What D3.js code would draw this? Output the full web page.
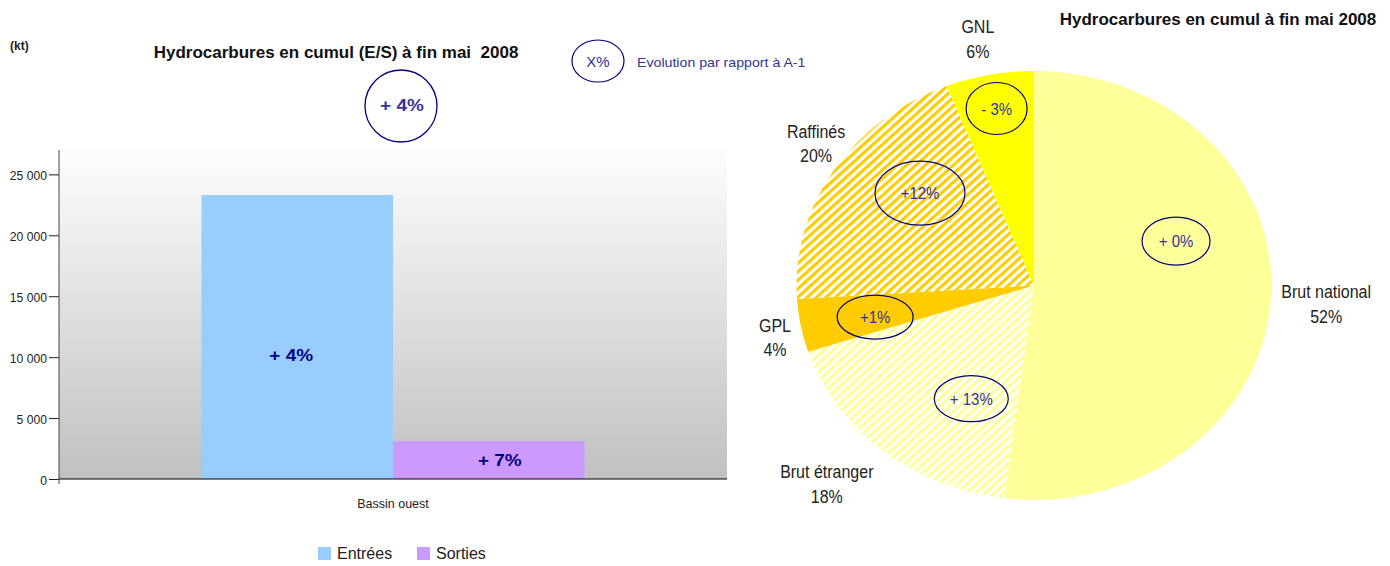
<!DOCTYPE html>
<html>
<head>
<meta charset="utf-8">
<script src="https://cdn.jsdelivr.net/npm/d3@7"></script>
<style>
  body { margin: 0; background: #fff; }
  svg { display: block; font-family: 'Liberation Sans', Arial, sans-serif; }
</style>
</head>
<body>
<svg id="chart" width="1390" height="566"></svg>
<script>
// bar chart data (kt, cumul fin mai 2008)
const barCategories = ['Bassin ouest'];
const barSeries = ['Entrées', 'Sorties'];
const barValues = [23300, 3100];
const barEvolution = ['+ 4%', '+ 7%'];
const totalEvolution = '+ 4%';
const yTicks = [0, 5000, 10000, 15000, 20000, 25000];
const yMax = 27000;

// pie data (share of total, %)
const pieLabels = ['Brut national', 'Brut étranger', 'GPL', 'Raffinés', 'GNL'];
const pieValues = [52, 18, 4, 20, 6];
const pieEvolution = ['+ 0%', '+ 13%', '+1%', '+12%', '- 3%'];

const svg = d3.select('#chart');
const defs = svg.append('defs');
const NAVY = '#000080';
const BADGE_TEXT = '#333399';

// text with a horizontal stretch (the original picture was resampled)
function label(parent, x, y, str, size, sx, opts = {}) {
  return parent.append('text')
    .attr('transform', `translate(${x},${y}) scale(${sx},1)`)
    .attr('text-anchor', opts.anchor || 'start')
    .attr('font-size', size)
    .attr('font-weight', opts.weight || 'normal')
    .attr('fill', opts.fill || '#222')
    .style('white-space', 'pre')
    .text(str);
}

// ---------- bar chart ----------
const plot = { left: 59, right: 727, top: 150, bottom: 479 };
const barColors = { 'Entrées': '#99CCFF', 'Sorties': '#CC99FF' };
// label shift from the bar middle [dx, dy]
const barLabelShift = [[-6, 18], [11, 0]];

const grad = defs.append('linearGradient')
  .attr('id', 'plotBg').attr('x1', 0).attr('y1', 0).attr('x2', 0).attr('y2', 1);
grad.append('stop').attr('offset', '0%').attr('stop-color', '#fdfdfd');
grad.append('stop').attr('offset', '100%').attr('stop-color', '#c0c0c0');

const y = d3.scaleLinear().domain([0, yMax]).range([plot.bottom, plot.top]);
const x0 = d3.scaleBand().domain(barCategories).range([plot.left, plot.right])
  .paddingInner(0).paddingOuter(0.372);
const x1 = d3.scaleBand().domain(barSeries).range([0, x0.bandwidth()]).padding(0);

svg.append('rect')
  .attr('x', plot.left).attr('y', plot.top)
  .attr('width', plot.right - plot.left).attr('height', plot.bottom - plot.top)
  .attr('fill', 'url(#plotBg)');

barCategories.forEach(cat => {
  const g = svg.append('g').attr('transform', `translate(${x0(cat)},0)`);
  barSeries.forEach((s, i) => {
    const v = barValues[i];
    g.append('rect')
      .attr('x', x1(s))
      .attr('y', y(v))
      .attr('width', x1.bandwidth())
      .attr('height', y(0) - y(v))
      .attr('fill', barColors[s]);
    const [dx, dy] = barLabelShift[i];
    label(g, x1(s) + x1.bandwidth() / 2 + dx, y(v / 2) + 6 + dy, barEvolution[i], 16.5, 1.15,
      { anchor: 'middle', weight: 'bold', fill: NAVY });
  });
});

// y axis
const yAxis = d3.axisLeft(y)
  .tickValues(yTicks)
  .tickSize(10)
  .tickPadding(2)
  .tickFormat(d => d3.format(',')(d).replace(/,/g, ' '));

const yAxisG = svg.append('g')
  .attr('transform', `translate(${plot.left},0)`)
  .call(yAxis);
yAxisG.select('.domain').remove();
yAxisG.selectAll('line').attr('stroke', '#222');
yAxisG.selectAll('.tick text').each(function () {
  const t = d3.select(this);
  const str = t.text();
  label(d3.select(this.parentNode), -12, 5, str, 13.5, 0.9, { anchor: 'end' });
  t.remove();
});
yAxisG.append('line')
  .attr('x1', 0).attr('x2', 0).attr('y1', plot.top).attr('y2', plot.bottom + 5)
  .attr('stroke', '#444');

// x axis
svg.append('line')
  .attr('x1', plot.left).attr('x2', plot.right)
  .attr('y1', plot.bottom).attr('y2', plot.bottom)
  .attr('stroke', '#000').attr('stroke-width', 1.2);

barCategories.forEach(cat => {
  label(svg, x0(cat) + x0.bandwidth() / 2, 508, cat, 13, 0.96, { anchor: 'middle' });
});

// titles
label(svg, 10, 50, '(kt)', 12, 1, { weight: 'bold' });
label(svg, 336, 58, 'Hydrocarbures en cumul (E/S) à fin mai  2008', 17, 1,
  { anchor: 'middle', weight: 'bold', fill: '#111' });

// total evolution badge
svg.append('ellipse')
  .attr('cx', 401).attr('cy', 106).attr('rx', 36).attr('ry', 36)
  .attr('fill', 'none').attr('stroke', NAVY).attr('stroke-width', 1.3);
label(svg, 402, 111, totalEvolution, 16.5, 1.15, { anchor: 'middle', weight: 'bold', fill: BADGE_TEXT });

// key: X% = evolution
svg.append('ellipse')
  .attr('cx', 598).attr('cy', 61).attr('rx', 26).attr('ry', 21)
  .attr('fill', 'none').attr('stroke', NAVY).attr('stroke-width', 1.2);
label(svg, 598, 67, 'X%', 15, 1, { anchor: 'middle', fill: BADGE_TEXT });
label(svg, 637, 67, 'Evolution par rapport à A-1', 13.5, 1.05, { fill: BADGE_TEXT });

// bar legend
const legendX = [318, 417];
barSeries.forEach((s, i) => {
  svg.append('rect')
    .attr('x', legendX[i]).attr('y', 547)
    .attr('width', 13).attr('height', 13)
    .attr('fill', barColors[s]);
  label(svg, legendX[i] + 19, 559, s, 16, 1);
});

// ---------- pie chart ----------
const pieCx = 1034, pieCy = 285.5, pieR = 214.5, pieStretch = 1.107;

function hatch(id, color) {
  const p = defs.append('pattern')
    .attr('id', id)
    .attr('patternUnits', 'userSpaceOnUse')
    .attr('width', 6).attr('height', 6)
    .attr('patternTransform', 'rotate(45)');
  p.append('rect').attr('width', 6).attr('height', 6).attr('fill', '#fff');
  p.append('rect').attr('width', 3).attr('height', 6).attr('fill', color);
}
hatch('hatchLight', '#FFFF99');
hatch('hatchOrange', '#FFCC00');

const pieFills = ['#FFFF99', 'url(#hatchLight)', '#FFCC00', 'url(#hatchOrange)', '#FFFF00'];

const pie = d3.pie().sort(null).value(d => d)(pieValues);
const arc = d3.arc().innerRadius(0).outerRadius(pieR);

const pieG = svg.append('g')
  .attr('transform', `translate(${pieCx},${pieCy}) scale(${pieStretch},1)`);

pieG.selectAll('path')
  .data(pie)
  .enter().append('path')
  .attr('d', arc)
  .attr('fill', (d, i) => pieFills[i]);

// angle clockwise from 12 o'clock
function polar(angle, r) {
  return [pieCx + Math.sin(angle) * r * pieStretch, pieCy - Math.cos(angle) * r];
}
const deg = Math.PI / 180;

// badges: [radius factor, angle shift deg, rx, ry]
const badgeLayout = [
  [0.633, -22.7, 34, 24],
  [0.59, -13, 37, 23],
  [0.685, -1.6, 38, 22],
  [0.645, 9.5, 45, 32],
  [0.84, 0, 30.5, 26]
];
// outer labels: [radius factor, angle shift deg]
const labelLayout = [
  [1.233, 0.2],
  [1.27, 3.8],
  [1.117, -1.6],
  [1.133, 3.5],
  [1.176, -0.8]
];

pie.forEach((d, i) => {
  const mid = (d.startAngle + d.endAngle) / 2;

  const [rf, shift, rx, ry] = badgeLayout[i];
  const [bx, by] = polar(mid + shift * deg, pieR * rf);
  svg.append('ellipse')
    .attr('cx', bx).attr('cy', by).attr('rx', rx).attr('ry', ry)
    .attr('fill', 'none').attr('stroke', NAVY).attr('stroke-width', 1.2);
  label(svg, bx, by + 6, pieEvolution[i], 17, 0.88, { anchor: 'middle', fill: BADGE_TEXT });

  const [lf, lshift] = labelLayout[i];
  const [lx, ly] = polar(mid + lshift * deg, pieR * lf);
  label(svg, lx, ly - 5, pieLabels[i], 18.5, 0.865, { anchor: 'middle' });
  label(svg, lx, ly + 19.5, pieValues[i] + '%', 18.5, 0.865, { anchor: 'middle' });
});

label(svg, 1218, 25, 'Hydrocarbures en cumul à fin mai 2008', 17, 1,
  { anchor: 'middle', weight: 'bold', fill: '#111' });
</script>
</body>
</html>
